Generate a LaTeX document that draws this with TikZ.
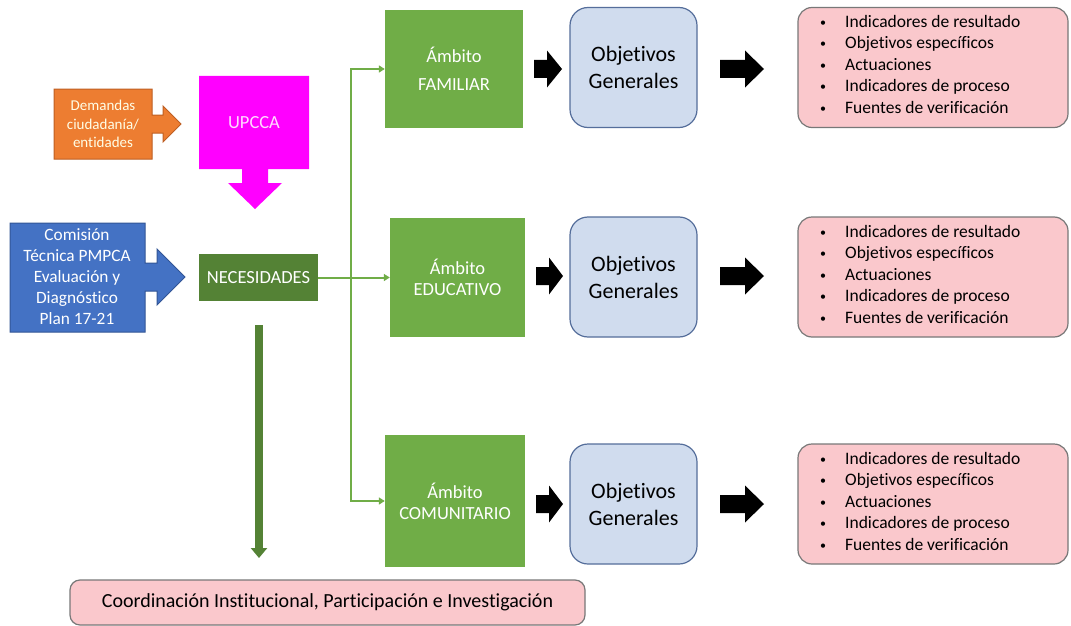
\documentclass[tikz,border=0pt]{standalone}
\usepackage{fontspec}
\setmainfont{Carlito}[Ligatures=NoCommon]
\usetikzlibrary{arrows.meta}
\definecolor{cOrange}{RGB}{237,125,49}
\definecolor{cOrangeD}{RGB}{190,95,35}
\definecolor{cMag}{RGB}{255,0,255}
\definecolor{cBlue}{RGB}{68,114,196}
\definecolor{cBlueD}{RGB}{50,85,150}
\definecolor{cGreen}{RGB}{112,173,71}
\definecolor{cGreenD}{RGB}{84,130,53}
\definecolor{cObj}{RGB}{208,220,238}
\definecolor{cObjD}{RGB}{85,110,155}
\definecolor{cPink}{RGB}{250,200,204}
\definecolor{cPinkD}{RGB}{120,120,120}
\newcommand{\blkarr}[4]{%
  \fill[black] (#1,#4-9) -- (#2,#4-9) -- (#2,#4-18.5) -- (#3,#4) -- (#2,#4+18.5) -- (#2,#4+9) -- (#1,#4+9) -- cycle;}
\newcommand{\bl}{\makebox[25pt][l]{\raisebox{1pt}{\fontsize{12}{12}\selectfont\textbullet}}}
\tikzset{
  ambito/.style={fill=cGreen, draw=none, text=white, align=center, inner sep=0,
    font=\fontsize{18.5}{21}\selectfont},
  objbox/.style={fill=cObj, draw=cObjD, line width=1.2, rounded corners=18, align=center,
    minimum width=127, minimum height=120, font=\fontsize{22}{27}\selectfont, inner sep=0},
  pinkbox/.style={fill=cPink, draw=cPinkD, line width=1.2, rounded corners=14,
    minimum width=270, minimum height=120, inner sep=0},
  pinktxt/.style={anchor=west, align=left, inner sep=0, font=\fontsize{17.5}{21.5}\selectfont},
  thing/.style={line width=2, draw=cGreen, -{Triangle[length=6,width=7]}},
}
\begin{document}
\begin{tikzpicture}[x=1pt,y=-1pt]
\useasboundingbox (0,0) rectangle (1071,626);
\fill[white] (0,0) rectangle (1071,626);

% Demandas (orange arrow callout)
\draw[fill=cOrange, draw=cOrangeD, line width=1]
  (54,89) -- (152,89) -- (152,115) -- (163,115) -- (163,106) -- (181,124)
  -- (163,142) -- (163,133) -- (152,133) -- (152,159) -- (54,159) -- cycle;
\node[text=white!90!yellow, align=center, font=\fontsize{15}{18.3}\selectfont] (dem) at (103,124)
  {Demandas\\ciudadanía/\\entidades};

% UPCCA (magenta down arrow callout)
\fill[cMag]
  (199,76) -- (309,76) -- (309,169) -- (268,169) -- (268,183) -- (282,183) -- (255,209)
  -- (228,183) -- (242,183) -- (242,169) -- (199,169) -- cycle;
\node[text=white!85!cMag, font=\fontsize{18.5}{21}\selectfont] (upc) at (254,123) {UPCCA};

% Comision (blue arrow callout)
\draw[fill=cBlue, draw=cBlueD, line width=1]
  (10,223) -- (145,223) -- (145,263) -- (157,263) -- (157,249) -- (185,277)
  -- (157,305) -- (157,291) -- (145,291) -- (145,332) -- (10,332) -- cycle;
\node[text=white, align=center, font=\fontsize{17.3}{21}\selectfont] (com0) at (77,277)
  {Comisión\\Técnica PMPCA\\Evaluación y\\Diagnóstico\\Plan 17-21};

% NECESIDADES
\node[fill=cGreenD, text=white, minimum width=119, minimum height=47, inner sep=0,
  font=\fontsize{18.5}{21}\selectfont] (nec) at (258.5,277.5) {NECESIDADES};

% Ambito boxes
\node[ambito, minimum width=138, minimum height=118, font=\fontsize{18.5}{28}\selectfont]
  (fam) at (454,69) {Ámbito\\FAMILIAR};
\node[ambito, minimum width=135, minimum height=119] (edu) at (457.5,277.5) {Ámbito\\EDUCATIVO};
\node[ambito, minimum width=140, minimum height=132] (comu) at (455,501) {Ámbito\\COMUNITARIO};

% green connectors
\coordinate (bus) at (351,277.5);
\draw[line width=2, cGreen] (nec.east) -- (bus);
\draw[thing] (bus) |- (fam.west);
\draw[thing] (bus) -- (edu.west);
\draw[thing] (bus) |- (comu.west);

% thick down arrow
\coordinate (ta) at (259,325);
\coordinate (tb) at (259,558);
\draw[line width=8, cGreenD, -{Triangle[length=10,width=16]}] (ta) -- (tb);

% Objetivos
\node[objbox] (o1) at (633.5,67.5) {Objetivos\\Generales};
\node[objbox] (o2) at (633.5,277) {Objetivos\\Generales};
\node[objbox] (o3) at (633.5,504) {Objetivos\\Generales};

% Pink boxes
\node[pinkbox] (p1) at (933,67.5) {};
\node[pinkbox] (p2) at (933,277) {};
\node[pinkbox] (p3) at (933,504) {};
\foreach \n/\yy in {p1/64, p2/274, p3/501}{
  \node[pinktxt] (\n t) at (820,\yy) {\bl Indicadores de resultado\\ \bl Objetivos específicos\\ \bl Actuaciones\\ \bl Indicadores de proceso\\ \bl Fuentes de verificación};
}

% black block arrows
\blkarr{534}{547}{562}{69}
\blkarr{720}{745}{764}{69}
\blkarr{536}{549}{563}{276}
\blkarr{720}{745}{764}{276}
\blkarr{536}{549}{563}{504}
\blkarr{720}{745}{764}{504}

% Coordinacion
\node[fill=cPink, draw=cPinkD, line width=1.2, rounded corners=10, minimum width=515,
  minimum height=45, inner sep=0, font=\fontsize{20}{24}\selectfont] (coord) at (327.5,602.5)
  {Coordinación Institucional, Participación e Investigación};
\end{tikzpicture}
\end{document}
